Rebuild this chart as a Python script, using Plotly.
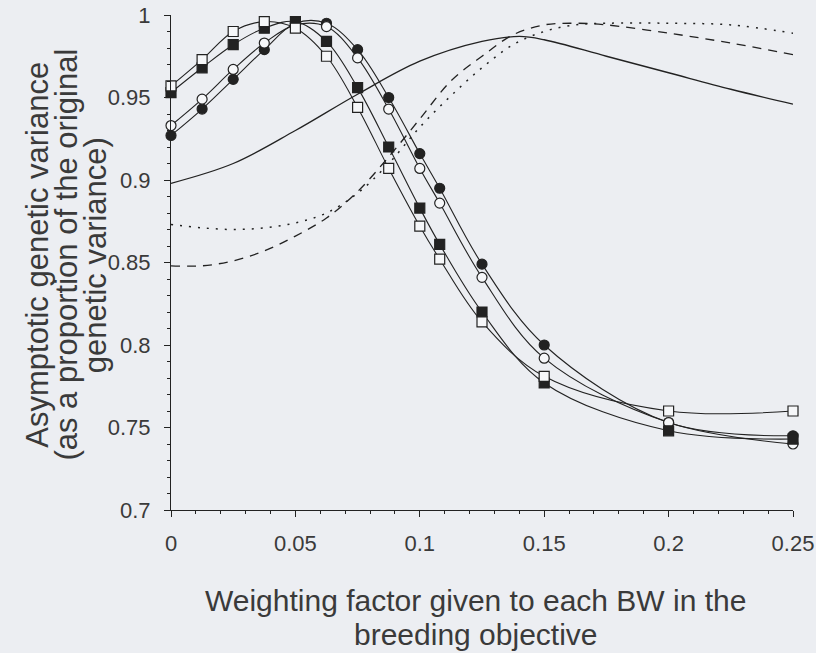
import plotly.graph_objects as go

# ---------------- data ----------------
x_marked = [0, 0.0125, 0.025, 0.0375, 0.05, 0.0625, 0.075, 0.0875, 0.1, 0.108, 0.125, 0.15, 0.2, 0.25]
open_square = [0.957, 0.973, 0.990, 0.996, 0.992, 0.975, 0.944, 0.907, 0.872, 0.852, 0.814, 0.781, 0.760, 0.760]
filled_square = [0.953, 0.968, 0.982, 0.992, 0.996, 0.984, 0.956, 0.920, 0.883, 0.861, 0.820, 0.777, 0.748, 0.743]
open_circle = [0.933, 0.949, 0.967, 0.983, 0.994, 0.993, 0.974, 0.943, 0.907, 0.886, 0.841, 0.792, 0.753, 0.740]
filled_circle = [0.927, 0.943, 0.961, 0.979, 0.995, 0.995, 0.979, 0.950, 0.916, 0.895, 0.849, 0.800, 0.753, 0.745]

x_solid = [0, 0.025, 0.05, 0.075, 0.1, 0.125, 0.14, 0.15, 0.175, 0.2, 0.225, 0.25]
solid = [0.898, 0.910, 0.930, 0.952, 0.972, 0.984, 0.987, 0.985, 0.975, 0.965, 0.955, 0.946]

x_broken = [0, 0.0125, 0.025, 0.0375, 0.05, 0.0625, 0.075, 0.0875, 0.1, 0.1125, 0.125, 0.1375,
            0.15, 0.1625, 0.175, 0.2, 0.225, 0.25]
dashed = [0.848, 0.848, 0.851, 0.857, 0.866, 0.877, 0.893, 0.914, 0.937, 0.960, 0.975, 0.988,
          0.994, 0.995, 0.994, 0.989, 0.983, 0.976]
dotted = [0.873, 0.871, 0.870, 0.871, 0.874, 0.880, 0.892, 0.910, 0.932, 0.951, 0.968, 0.982,
          0.990, 0.994, 0.995, 0.995, 0.994, 0.989]

x_ticks = [0, 0.05, 0.1, 0.15, 0.2, 0.25]
x_ticklabels = ["0", "0.05", "0.1", "0.15", "0.2", "0.25"]
y_ticks = [0.7, 0.75, 0.8, 0.85, 0.9, 0.95, 1.0]
y_ticklabels = ["0.7", "0.75", "0.8", "0.85", "0.9", "0.95", "1"]

x_title_lines = ["Weighting factor given to each BW in the", "breeding objective"]
y_title_lines = ["Asymptotic genetic variance", "(as a proportion of the original", "genetic variance)"]

# ---------------- styling ----------------
INK = "#222222"
TEXT = "#3a3a3a"
BG = "#eceef2"
HOLLOW = "#f6f7f9"
FONT = "Liberation Sans, Arial, sans-serif"

fig = go.Figure()

fig.add_trace(go.Scatter(x=x_solid, y=solid, mode="lines", line=dict(color=INK, width=1.3, shape="spline"),
                         showlegend=False, hoverinfo="skip"))
fig.add_trace(go.Scatter(x=x_broken, y=dashed, mode="lines",
                         line=dict(color=INK, width=1.3, dash="9px,7px", shape="spline"),
                         showlegend=False, hoverinfo="skip"))
fig.add_trace(go.Scatter(x=x_broken, y=dotted, mode="lines",
                         line=dict(color=INK, width=1.5, dash="2px,7px", shape="spline"),
                         showlegend=False, hoverinfo="skip"))

series = [
    (filled_circle, "circle", INK),
    (open_circle, "circle", HOLLOW),
    (filled_square, "square", INK),
    (open_square, "square", HOLLOW),
]
for ys, sym, fill in series:
    fig.add_trace(go.Scatter(
        x=x_marked, y=ys, mode="lines+markers",
        line=dict(color=INK, width=1.1, shape="spline", smoothing=1.0),
        marker=dict(symbol=sym, size=10, color=fill, line=dict(color=INK, width=1.2)),
        cliponaxis=False, showlegend=False))

fig.update_layout(
    width=816, height=653,
    margin=dict(l=171, r=23, t=15, b=143),
    paper_bgcolor=BG, plot_bgcolor=BG,
    font=dict(family=FONT, color=TEXT, size=22),
    showlegend=False,
)

fig.update_xaxes(
    range=[0, 0.25], showgrid=False, zeroline=False, automargin=False,
    showline=True, linecolor=INK, linewidth=1.2,
    tickmode="array", tickvals=x_ticks, ticktext=x_ticklabels,
    ticks="outside", ticklen=6, tickwidth=1.1, tickcolor=INK,
    ticklabelstandoff=7,
    tickfont=dict(size=22, color=TEXT, family=FONT),
    minor=dict(dtick=0.01, ticks="outside", ticklen=3, tickwidth=1, tickcolor=INK, showgrid=False),
)
fig.update_yaxes(
    range=[0.7, 1.0], showgrid=False, zeroline=False, automargin=False,
    showline=True, linecolor=INK, linewidth=1.2,
    tickmode="array", tickvals=y_ticks, ticktext=y_ticklabels,
    ticks="outside", ticklen=6, tickwidth=1.1, tickcolor=INK,
    ticklabelstandoff=9,
    tickfont=dict(size=22, color=TEXT, family=FONT),
    minor=dict(dtick=0.01, ticks="outside", ticklen=3, tickwidth=1, tickcolor=INK, showgrid=False),
)

# x-axis title, two centred lines
for line_text, ypos in zip(x_title_lines, [-0.182, -0.252]):
    fig.add_annotation(text=line_text, xref="paper", yref="paper", x=0.49, y=ypos,
                       xanchor="center", yanchor="middle", showarrow=False,
                       font=dict(size=30, color=TEXT, family=FONT))

# y-axis title, three centred rotated lines
for line_text, xpos in zip(y_title_lines, [-0.216, -0.168, -0.122]):
    fig.add_annotation(text=line_text, xref="paper", yref="paper", x=xpos, y=0.515,
                       xanchor="center", yanchor="middle", textangle=-90, showarrow=False,
                       font=dict(size=31, color=TEXT, family=FONT))

fig.write_html(
    "out.html",
    config={"displayModeBar": False},
    post_script="document.body.style.margin='0px';document.body.style.overflow='hidden';"
                "document.body.style.background='%s';" % BG,
)
